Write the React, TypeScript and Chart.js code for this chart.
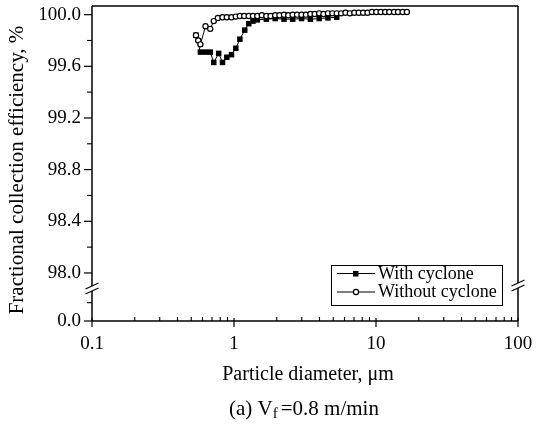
import React, { useEffect, useRef } from "react";
import { Chart, registerables } from "chart.js";

Chart.register(...registerables);

// ---- Data ----
const withCycloneDiameter = [0.54, 0.58, 0.63, 0.68, 0.72, 0.78, 0.83, 0.89, 0.96, 1.03, 1.10, 1.19, 1.27, 1.36, 1.46, 1.69, 1.95, 2.25, 2.59, 2.99, 3.45, 3.98, 4.59, 5.29];
const withCycloneEff = [99.84, 99.71, 99.71, 99.71, 99.63, 99.70, 99.63, 99.67, 99.69, 99.74, 99.81, 99.88, 99.93, 99.95, 99.96, 99.965, 99.97, 99.965, 99.965, 99.97, 99.965, 99.97, 99.975, 99.98];

const withoutCycloneDiameter = [0.54, 0.56, 0.58, 0.63, 0.68, 0.72, 0.77, 0.83, 0.89, 0.96, 1.03, 1.10, 1.18, 1.27, 1.36, 1.46, 1.57, 1.69, 1.81, 1.95, 2.09, 2.25, 2.41, 2.59, 2.78, 2.99, 3.21, 3.45, 3.70, 3.98, 4.27, 4.59, 4.93, 5.29, 5.68, 6.10, 6.55, 7.04, 7.56, 8.12, 8.72, 9.36, 10.05, 10.8, 11.6, 12.4, 13.4, 14.3, 15.4, 16.5];
const withoutCycloneEff = [99.84, 99.80, 99.77, 99.91, 99.89, 99.95, 99.975, 99.98, 99.98, 99.98, 99.985, 99.99, 99.99, 99.99, 99.99, 99.99, 99.995, 99.99, 99.99, 99.995, 99.995, 100.0, 99.995, 100.0, 100.0, 100.0, 100.0, 100.005, 100.005, 100.01, 100.005, 100.01, 100.01, 100.01, 100.01, 100.015, 100.01, 100.015, 100.015, 100.015, 100.015, 100.02, 100.02, 100.02, 100.02, 100.02, 100.02, 100.02, 100.02, 100.02];

const xTickValues = [0.1, 1, 10, 100];
const xTickLabels = ["0.1", "1", "10", "100"];
// The y axis is broken: "0.0" sits just below the 98.0–100.0 range
const Y_ZERO_POS = 97.628;
const Y_MAX = 100.067;
const yTickValues = [Y_ZERO_POS, 98.0, 98.4, 98.8, 99.2, 99.6, 100.0];
const yTickLabels = ["0.0", "98.0", "98.4", "98.8", "99.2", "99.6", "100.0"];
const yMinorValues = [97.77, 98.2, 98.6, 99.0, 99.4, 99.8];
const Y_BREAK = 97.88;

const seriesNames = ["With cyclone", "Without cyclone"];
const xTitle = "Particle diameter, \u03bcm";
const yTitle = "Fractional collection efficiency, %";

const FONT = "'Liberation Serif', 'Times New Roman', serif";

const decoPlugin = {
  id: "deco",
  beforeDatasetsDraw(chart: any) {
    const { ctx, chartArea } = chart;
    const { left, right, top, bottom } = chartArea;
    const x = chart.scales.x;
    const y = chart.scales.y;
    ctx.save();
    ctx.strokeStyle = "#000";
    ctx.lineCap = "butt";
    const line = (x1: number, y1: number, x2: number, y2: number, w = 1.5) => {
      ctx.lineWidth = w;
      ctx.beginPath();
      ctx.moveTo(x1, y1);
      ctx.lineTo(x2, y2);
      ctx.stroke();
    };
    // frame
    line(left, top, right, top);
    line(left, bottom, right, bottom);
    const ybL = y.getPixelForValue(Y_BREAK);
    const ybR = ybL - 3;
    line(left, top, left, ybL - 2.5);
    line(left, ybL + 2.5, left, bottom);
    line(right, top, right, ybR - 2.5);
    line(right, ybR + 2.5, right, bottom);
    // break marks
    for (const [cx, cy] of [[left, ybL], [right, ybR]]) {
      for (const d of [-2.5, 2.5]) {
        line(cx - 6.5, cy + d + 3, cx + 6.5, cy + d - 3, 1.2);
      }
    }
    // x ticks
    for (let e = -1; e <= 2; e++) {
      const base = Math.pow(10, e);
      const px = x.getPixelForValue(base);
      line(px, bottom - 3, px, bottom + 6, 1.2);
      if (e < 2) {
        for (let m = 2; m <= 9; m++) {
          const p = x.getPixelForValue(base * m);
          line(p, bottom - 4, p, bottom, 1.1);
        }
      }
    }
    // y ticks
    for (const v of yTickValues) {
      const py = y.getPixelForValue(v);
      line(left - 8, py, left, py, 1.2);
    }
    for (const v of yMinorValues) {
      const py = y.getPixelForValue(v);
      line(left - 5, py, left, py, 1.1);
    }
    ctx.restore();
  },
  afterDraw(chart: any) {
    const { ctx } = chart;
    ctx.save();
    ctx.fillStyle = "#000";
    ctx.strokeStyle = "#000";
    // legend box
    ctx.lineWidth = 1;
    ctx.strokeRect(331.5, 265.5, 171, 40);
    const rows = [273.5, 292];
    rows.forEach((ry, i) => {
      ctx.lineWidth = 1;
      ctx.beginPath();
      ctx.moveTo(337, ry);
      ctx.lineTo(375, ry);
      ctx.stroke();
      if (i === 0) {
        ctx.fillRect(353, ry - 2.5, 5.5, 5.5);
      } else {
        ctx.beginPath();
        ctx.arc(356, ry, 2.6, 0, Math.PI * 2);
        ctx.fillStyle = "#fff";
        ctx.fill();
        ctx.lineWidth = 1.2;
        ctx.stroke();
        ctx.fillStyle = "#000";
      }
      ctx.font = `18px ${FONT}`;
      ctx.textAlign = "left";
      ctx.textBaseline = "middle";
      ctx.fillText(seriesNames[i], 378, ry + 0.5);
    });
    // y title
    ctx.save();
    ctx.translate(23, 170);
    ctx.rotate(-Math.PI / 2);
    ctx.font = `21px ${FONT}`;
    ctx.textAlign = "center";
    ctx.textBaseline = "alphabetic";
    ctx.fillText(yTitle, 0, 0);
    ctx.restore();
    // x title
    ctx.font = `20px ${FONT}`;
    ctx.textAlign = "center";
    ctx.textBaseline = "alphabetic";
    ctx.fillText(xTitle, 308, 380);
    // caption: (a) V_f = 0.8 m/min
    const partA = "(a) V";
    const sub = "f";
    const partB = "=0.8 m/min";
    ctx.font = `21px ${FONT}`;
    const wA = ctx.measureText(partA).width;
    const wB = ctx.measureText(partB).width;
    ctx.font = `15px ${FONT}`;
    const wS = ctx.measureText(sub).width;
    const gap = 3;
    const total = wA + wS + gap + wB;
    let cx = 304 - total / 2;
    const base = 415;
    ctx.textAlign = "left";
    ctx.font = `21px ${FONT}`;
    ctx.fillText(partA, cx, base);
    cx += wA;
    ctx.font = `15px ${FONT}`;
    ctx.fillText(sub, cx, base + 3);
    cx += wS + gap;
    ctx.font = `21px ${FONT}`;
    ctx.fillText(partB, cx, base);
    ctx.restore();
  },
};

export default function App() {
  const canvasRef = useRef<HTMLCanvasElement | null>(null);

  useEffect(() => {
    document.body.style.margin = "0";
    const canvas = canvasRef.current;
    if (!canvas) return;
    const chart = new Chart(canvas, {
      type: "scatter",
      data: {
        datasets: [
          {
            label: seriesNames[1],
            data: withoutCycloneDiameter.map((d, i) => ({ x: d, y: withoutCycloneEff[i] })),
            showLine: true,
            borderColor: "#000",
            borderWidth: 1,
            pointStyle: "circle",
            pointRadius: 2.6,
            pointBorderWidth: 1.2,
            pointBackgroundColor: "#fff",
            pointBorderColor: "#000",
            order: 0,
          },
          {
            label: seriesNames[0],
            data: withCycloneDiameter.map((d, i) => ({ x: d, y: withCycloneEff[i] })),
            showLine: true,
            borderColor: "#000",
            borderWidth: 1,
            pointStyle: "rect",
            pointRadius: 3.9,
            pointBorderWidth: 0,
            pointBackgroundColor: "#000",
            pointBorderColor: "#000",
            order: 1,
          },
        ],
      },
      options: {
        responsive: false,
        maintainAspectRatio: false,
        animation: false,
        layout: { padding: { left: 0, top: 6, right: 18, bottom: 0 } },
        plugins: {
          legend: { display: false },
          tooltip: { enabled: false },
        },
        scales: {
          x: {
            type: "logarithmic",
            min: 0.1,
            max: 100,
            afterBuildTicks: (s: any) => {
              s.ticks = xTickValues.map((v) => ({ value: v }));
            },
            afterFit: (s: any) => {
              s.height = 105;
              s.paddingLeft = 0;
              s.paddingRight = 0;
            },
            ticks: {
              autoSkip: false,
              maxRotation: 0,
              padding: 12,
              color: "#000",
              font: { family: FONT, size: 19 },
              callback: (_v: any, i: number) => xTickLabels[i],
            },
            grid: { display: false, drawTicks: false },
            border: { display: false },
          },
          y: {
            type: "linear",
            min: Y_ZERO_POS,
            max: Y_MAX,
            afterBuildTicks: (s: any) => {
              s.ticks = yTickValues.map((v) => ({ value: v }));
            },
            afterFit: (s: any) => {
              s.width = 92;
              s.paddingTop = 0;
              s.paddingBottom = 0;
            },
            ticks: {
              autoSkip: false,
              padding: 11,
              color: "#000",
              font: { family: FONT, size: 19 },
              callback: (_v: any, i: number) => yTickLabels[i],
            },
            grid: { display: false, drawTicks: false },
            border: { display: false },
          },
        },
      },
      plugins: [decoPlugin],
    } as any);
    return () => chart.destroy();
  }, []);

  return (
    <div style={{ position: "absolute", left: 0, top: 0, width: 536, height: 426, background: "#fff" }}>
      <canvas ref={canvasRef} width={536} height={426} style={{ width: 536, height: 426, display: "block" }} />
    </div>
  );
}
